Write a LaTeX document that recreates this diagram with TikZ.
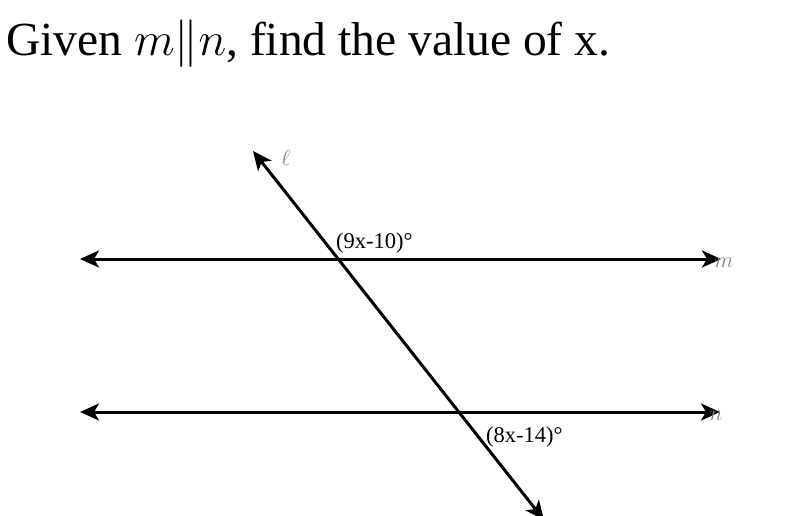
\RequirePackage{fix-cm}
\documentclass[tikz,border=0pt]{standalone}
\usepackage{fontspec}
\setmainfont{Liberation Serif}
\usetikzlibrary{arrows.meta}
\begin{document}
\begin{tikzpicture}[x=1pt,y=-1pt,
  line/.style={line width=3pt,{Stealth[length=19pt,width=17pt,inset=5pt]}-{Stealth[length=19pt,width=17pt,inset=5pt]}},
  angle/.style={font=\fontsize{22.5}{26}\selectfont,inner sep=0pt},
  linelabel/.style={text=black!50,inner sep=0pt,font=\fontsize{22}{24}\selectfont}]
\useasboundingbox (0,0) rectangle (785,516);
\node[anchor=base west,inner sep=0pt,font=\fontsize{47.5}{52}\selectfont] (title) at (6,56) {Given $m\|n$, find the value of x.};
\coordinate (mL) at (80,259);
\coordinate (mR) at (721,259);
\coordinate (nL) at (80,412);
\coordinate (nR) at (720,412);
\coordinate (tT) at (253,151);
\coordinate (tB) at (544,520);
\draw[line] (mL) -- (mR);
\draw[line] (nL) -- (nR);
\draw[line] (tT) -- (tB);
\node[linelabel] (ell) at (286,158) {$\ell$};
\node[linelabel] (mlab) at (724,263) {$m$};
\node[linelabel] (nlab) at (716,416) {$n$};
\node[angle,anchor=base west] (a1) at (336,248) {(9x-10)°};
\node[angle,anchor=base west] (a2) at (486,442) {(8x-14)°};
\end{tikzpicture}
\end{document}
